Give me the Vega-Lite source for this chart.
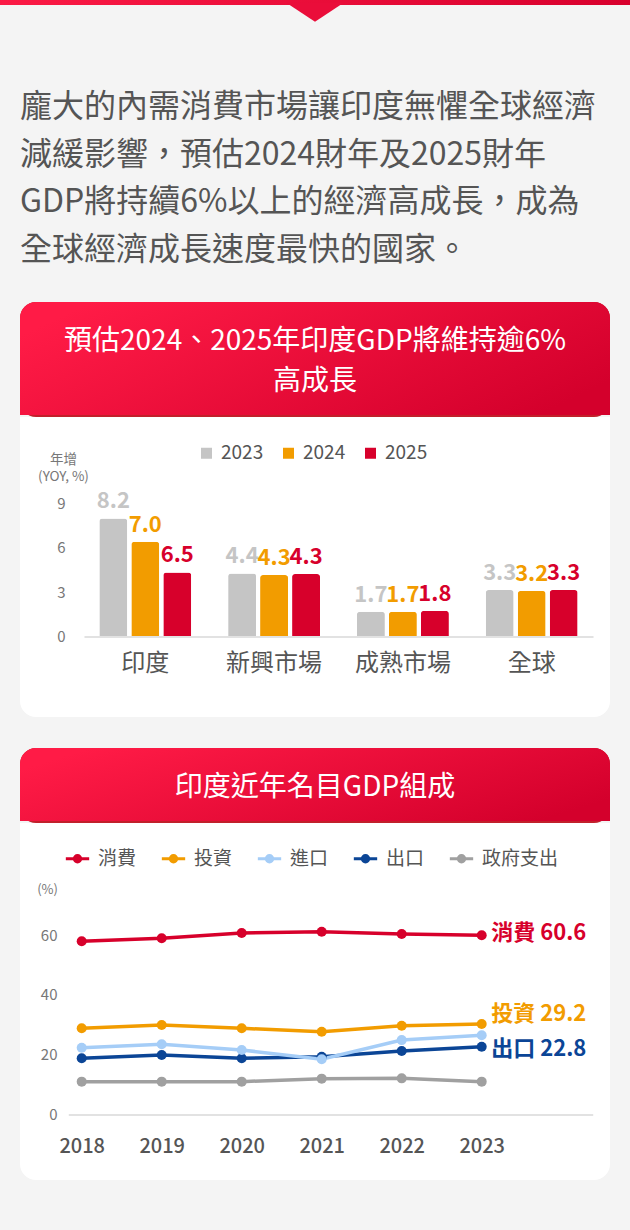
{
  "$schema": "https://vega.github.io/schema/vega-lite/v6.json",
  "background": "#f4f4f4",
  "padding": {"left": 0, "top": 0, "right": 0, "bottom": 50},
  "config": {
    "font": "Noto Sans CJK TC",
    "view": {"stroke": null},
    "axis": {"grid": false, "ticks": false, "tickSize": 0, "domain": false, "labelOverlap": false, "zindex": 1},
    "legend": {"padding": 0, "zindex": 1}
  },
  "resolve": {"scale": {"color": "independent"}, "legend": {"color": "independent"}},
  "bounds": "flush",
  "center": true,
  "spacing": 0,
  "vconcat": [
    {
      "width": 630,
      "height": 5,
      "data": {"values": [{"part": "topbar"}]},
      "layer": [
        {
          "mark": {"type": "rect", "color": {"gradient": "linear", "x1": 0, "y1": 0, "x2": 1, "y2": 0, "stops": [{"offset": 0, "color": "#fb1a45"}, {"offset": 1, "color": "#d8002d"}]}},
          "encoding": {"x": {"value": 0}, "x2": {"value": "width"}, "y": {"value": 0}, "y2": {"value": "height"}}
        },
        {
          "mark": {"type": "point", "shape": "M-1.15,0L1.15,0L0,0.76Z", "size": 2560, "filled": true, "opacity": 1, "color": "#ea0d3a"}
        }
      ]
    },
    {
      "width": 590,
      "height": 297,
      "data": {"values": [
        {"line": 1, "text": "龐大的內需消費市場讓印度無懼全球經濟"},
        {"line": 2, "text": "減緩影響，預估2024財年及2025財年"},
        {"line": 3, "text": "GDP將持續6%以上的經濟高成長，成為"},
        {"line": 4, "text": "全球經濟成長速度最快的國家。"}
      ]},
      "mark": {"type": "text", "align": "left", "baseline": "middle", "fontSize": 32, "color": "#555555"},
      "encoding": {
        "x": {"datum": 0, "type": "quantitative", "scale": {"domain": [0, 1]}, "axis": null},
        "y": {"field": "line", "type": "quantitative", "scale": {"domain": [-1.128, 5.085], "reverse": true, "nice": false, "zero": false}, "axis": null},
        "text": {"field": "text"}
      }
    },
    {
      "width": 590,
      "height": 115,
      "view": {"fill": "#c1202b", "cornerRadius": 16},
      "data": {"values": [{"title": "預估2024、2025年印度GDP將維持逾6%\n高成長"}]},
      "layer": [
        {
          "mark": {"type": "rect", "y2Offset": -2, "cornerRadiusTopLeft": 16, "cornerRadiusTopRight": 16, "color": {"gradient": "linear", "x1": 0, "y1": 0.3, "x2": 1, "y2": 0.7, "stops": [{"offset": 0, "color": "#ff1b46"}, {"offset": 1, "color": "#d4002c"}]}},
          "encoding": {"x": {"value": 0}, "x2": {"value": "width"}, "y": {"value": 0}, "y2": {"value": "height"}}
        },
        {
          "mark": {"type": "text", "color": "#ffffff", "fontSize": 28, "fontWeight": "normal", "lineBreak": "\n", "lineHeight": 40, "baseline": "middle", "align": "center", "dy": -18},
          "encoding": {"text": {"field": "title"}}
        }
      ]
    },
    {
      "width": 590,
      "height": 300,
      "data": {"values": [
        {"region": "印度", "year": "2023", "bar": 7.98, "label": "8.2"},
        {"region": "印度", "year": "2024", "bar": 6.41, "label": "7.0"},
        {"region": "印度", "year": "2025", "bar": 4.33, "label": "6.5"},
        {"region": "新興市場", "year": "2023", "bar": 4.26, "label": "4.4"},
        {"region": "新興市場", "year": "2024", "bar": 4.15, "label": "4.3"},
        {"region": "新興市場", "year": "2025", "bar": 4.22, "label": "4.3"},
        {"region": "成熟市場", "year": "2023", "bar": 1.67, "label": "1.7"},
        {"region": "成熟市場", "year": "2024", "bar": 1.67, "label": "1.7"},
        {"region": "成熟市場", "year": "2025", "bar": 1.73, "label": "1.8"},
        {"region": "全球", "year": "2023", "bar": 3.14, "label": "3.3"},
        {"region": "全球", "year": "2024", "bar": 3.08, "label": "3.2"},
        {"region": "全球", "year": "2025", "bar": 3.14, "label": "3.3"}
      ]},
      "layer": [
        {
          "data": {"values": [{"card": "body"}]},
          "mark": {"type": "rect", "color": "#ffffff", "cornerRadiusBottomLeft": 16, "cornerRadiusBottomRight": 16},
          "encoding": {"x": {"value": 0}, "x2": {"value": "width"}, "y": {"value": 0}, "y2": {"value": "height"}}
        },
        {
          "mark": {"type": "bar", "cornerRadiusTopLeft": 3, "cornerRadiusTopRight": 3},
          "encoding": {
            "x": {"field": "region", "type": "nominal", "sort": ["印度", "新興市場", "成熟市場", "全球"],
              "scale": {"range": [64, 573], "paddingInner": 0.286, "paddingOuter": 0.119},
              "axis": {"title": null, "orient": "bottom", "offset": -80.5, "domain": true, "domainColor": "#e2e2e2", "domainWidth": 2, "labelAngle": 0, "labelFontSize": 24, "labelColor": "#555555", "labelPadding": 27, "labelBaseline": "middle", "zindex": 1}},
            "xOffset": {"field": "year", "type": "nominal", "scale": {"paddingInner": 0.125, "paddingOuter": 0}},
            "y": {"field": "bar", "type": "quantitative",
              "scale": {"domain": [-5.439, 14.831], "nice": false, "zero": false},
              "axis": {"title": ["年增", "(YOY, %)"], "values": [0, 3, 6, 9], "offset": -50, "labelPadding": 5, "labelFontSize": 15, "labelColor": "#777777", "titleAngle": 0, "titleX": -7, "titleY": 42, "titleAlign": "center", "titleBaseline": "middle", "titleFontSize": 13.5, "titleFontWeight": "normal", "titleColor": "#777777", "titleLineHeight": 17, "zindex": 1}},
            "color": {"field": "year", "type": "nominal",
              "scale": {"domain": ["2023", "2024", "2025"], "range": ["#c5c5c5", "#f29c00", "#d7002b"]},
              "legend": {"title": null, "orient": "none", "legendX": 177, "legendY": 26.5, "direction": "horizontal", "symbolType": "square", "symbolSize": 121, "symbolStrokeWidth": 0, "labelFontSize": 19, "labelColor": "#555555", "labelOffset": 5, "columnPadding": 15, "zindex": 1}}
          }
        },
        {
          "mark": {"type": "text", "fontSize": 22, "fontWeight": "bold", "baseline": "alphabetic", "dy": -10, "letterSpacing": 1.5},
          "encoding": {
            "x": {"field": "region", "type": "nominal", "sort": ["印度", "新興市場", "成熟市場", "全球"]},
            "xOffset": {"field": "year", "type": "nominal"},
            "y": {"field": "bar", "type": "quantitative"},
            "text": {"field": "label"},
            "color": {"field": "year", "type": "nominal", "legend": null}
          }
        }
      ]
    },
    {
      "width": 590,
      "height": 31,
      "data": {"values": [{"gap": "between cards"}]},
      "mark": {"type": "point", "opacity": 0}
    },
    {
      "width": 590,
      "height": 75,
      "view": {"fill": "#c1202b", "cornerRadius": 16},
      "data": {"values": [{"title": "印度近年名目GDP組成"}]},
      "layer": [
        {
          "mark": {"type": "rect", "y2Offset": -2, "cornerRadiusTopLeft": 16, "cornerRadiusTopRight": 16, "color": {"gradient": "linear", "x1": 0, "y1": 0.3, "x2": 1, "y2": 0.7, "stops": [{"offset": 0, "color": "#ff1b46"}, {"offset": 1, "color": "#d4002c"}]}},
          "encoding": {"x": {"value": 0}, "x2": {"value": "width"}, "y": {"value": 0}, "y2": {"value": "height"}}
        },
        {
          "mark": {"type": "text", "color": "#ffffff", "fontSize": 28, "fontWeight": "normal", "baseline": "middle", "align": "center", "dy": 2},
          "encoding": {"text": {"field": "title"}}
        }
      ]
    },
    {
      "width": 590,
      "height": 357,
      "data": {"values": [
        {"year": 2018, "series": "消費", "value": 57.97},
        {"year": 2019, "series": "消費", "value": 58.97},
        {"year": 2020, "series": "消費", "value": 60.74},
        {"year": 2021, "series": "消費", "value": 61.18},
        {"year": 2022, "series": "消費", "value": 60.41},
        {"year": 2023, "series": "消費", "value": 59.97, "end": "消費 60.6"},
        {"year": 2018, "series": "投資", "value": 28.85},
        {"year": 2019, "series": "投資", "value": 29.95},
        {"year": 2020, "series": "投資", "value": 28.85},
        {"year": 2021, "series": "投資", "value": 27.7},
        {"year": 2022, "series": "投資", "value": 29.7},
        {"year": 2023, "series": "投資", "value": 30.3, "end": "投資 29.2"},
        {"year": 2018, "series": "出口", "value": 18.8},
        {"year": 2019, "series": "出口", "value": 19.9},
        {"year": 2020, "series": "出口", "value": 18.8},
        {"year": 2021, "series": "出口", "value": 19.35},
        {"year": 2022, "series": "出口", "value": 21.25},
        {"year": 2023, "series": "出口", "value": 22.7, "end": "出口 22.8"},
        {"year": 2018, "series": "進口", "value": 22.36},
        {"year": 2019, "series": "進口", "value": 23.5},
        {"year": 2020, "series": "進口", "value": 21.6},
        {"year": 2021, "series": "進口", "value": 18.5},
        {"year": 2022, "series": "進口", "value": 24.9},
        {"year": 2023, "series": "進口", "value": 26.5},
        {"year": 2018, "series": "政府支出", "value": 11.0},
        {"year": 2019, "series": "政府支出", "value": 11.0},
        {"year": 2020, "series": "政府支出", "value": 11.0},
        {"year": 2021, "series": "政府支出", "value": 12.0},
        {"year": 2022, "series": "政府支出", "value": 12.1},
        {"year": 2023, "series": "政府支出", "value": 11.0}
      ]},
      "layer": [
        {
          "data": {"values": [{"card": "body"}]},
          "mark": {"type": "rect", "color": "#ffffff", "cornerRadiusBottomLeft": 16, "cornerRadiusBottomRight": 16},
          "encoding": {"x": {"value": 0}, "x2": {"value": "width"}, "y": {"value": 0}, "y2": {"value": "height"}}
        },
        {
          "mark": {"type": "line", "strokeWidth": 3.5},
          "encoding": {
            "x": {"field": "year", "type": "quantitative",
              "scale": {"domain": [2017.8325, 2024.3875], "range": [48.3, 572.7], "nice": false, "zero": false},
              "axis": {"title": null, "values": [2018, 2019, 2020, 2021, 2022, 2023], "format": "d", "offset": -65.5, "domain": true, "domainColor": "#e2e2e2", "domainWidth": 2, "labelFontSize": 20, "labelFontWeight": 500, "labelColor": "#555555", "labelPadding": 32, "labelBaseline": "middle", "labelFlush": false, "zindex": 1}},
            "y": {"field": "value", "type": "quantitative",
              "scale": {"domain": [-21.92, 97.56], "nice": false, "zero": false},
              "axis": {"title": "(%)", "values": [0, 20, 40, 60], "offset": -42, "labelPadding": 5, "labelFontSize": 15, "labelColor": "#777777", "titleAngle": 0, "titleX": -15, "titleY": 66, "titleAlign": "center", "titleBaseline": "middle", "titleFontSize": 13, "titleFontWeight": "normal", "titleColor": "#777777", "zindex": 1}},
            "color": {"field": "series", "type": "nominal",
              "scale": {"domain": ["消費", "投資", "進口", "出口", "政府支出"], "range": ["#d7002b", "#f29c00", "#a5cdf7", "#0b4596", "#a0a0a0"]},
              "legend": {"title": null, "orient": "none", "legendX": 44, "legendY": 22, "direction": "horizontal", "symbolType": "M-1,0H1M0.1286,0A0.1286,0.1286 0 1 1 -0.1286,0A0.1286,0.1286 0 1 1 0.1286,0M0.274,0A0.274,0.274 0 1 1 -0.274,0A0.274,0.274 0 1 1 0.274,0", "symbolSize": 545, "symbolStrokeWidth": 3, "symbolOpacity": 1, "labelFontSize": 19, "labelColor": "#555555", "labelOffset": 7, "columnPadding": 18, "zindex": 1}}
          }
        },
        {
          "mark": {"type": "point", "filled": true, "size": 100, "opacity": 1},
          "encoding": {
            "x": {"field": "year", "type": "quantitative"},
            "y": {"field": "value", "type": "quantitative"},
            "color": {"field": "series", "type": "nominal"}
          }
        },
        {
          "transform": [{"filter": "datum.series === '消費' && datum.year === 2023"}],
          "mark": {"type": "text", "align": "left", "baseline": "alphabetic", "dx": 9.5, "dy": 4.7, "fontSize": 22, "fontWeight": "bold", "letterSpacing": 1},
          "encoding": {"x": {"field": "year", "type": "quantitative"}, "y": {"field": "value", "type": "quantitative"}, "text": {"field": "end"}, "color": {"field": "series", "type": "nominal", "legend": null}}
        },
        {
          "transform": [{"filter": "datum.series === '投資' && datum.year === 2023"}],
          "mark": {"type": "text", "align": "left", "baseline": "alphabetic", "dx": 9.5, "dy": -3.3, "fontSize": 22, "fontWeight": "bold", "letterSpacing": 1},
          "encoding": {"x": {"field": "year", "type": "quantitative"}, "y": {"field": "value", "type": "quantitative"}, "text": {"field": "end"}, "color": {"field": "series", "type": "nominal", "legend": null}}
        },
        {
          "transform": [{"filter": "datum.series === '出口' && datum.year === 2023"}],
          "mark": {"type": "text", "align": "left", "baseline": "alphabetic", "dx": 9.5, "dy": 9, "fontSize": 22, "fontWeight": "bold", "letterSpacing": 1},
          "encoding": {"x": {"field": "year", "type": "quantitative"}, "y": {"field": "value", "type": "quantitative"}, "text": {"field": "end"}, "color": {"field": "series", "type": "nominal", "legend": null}}
        }
      ]
    }
  ]
}
